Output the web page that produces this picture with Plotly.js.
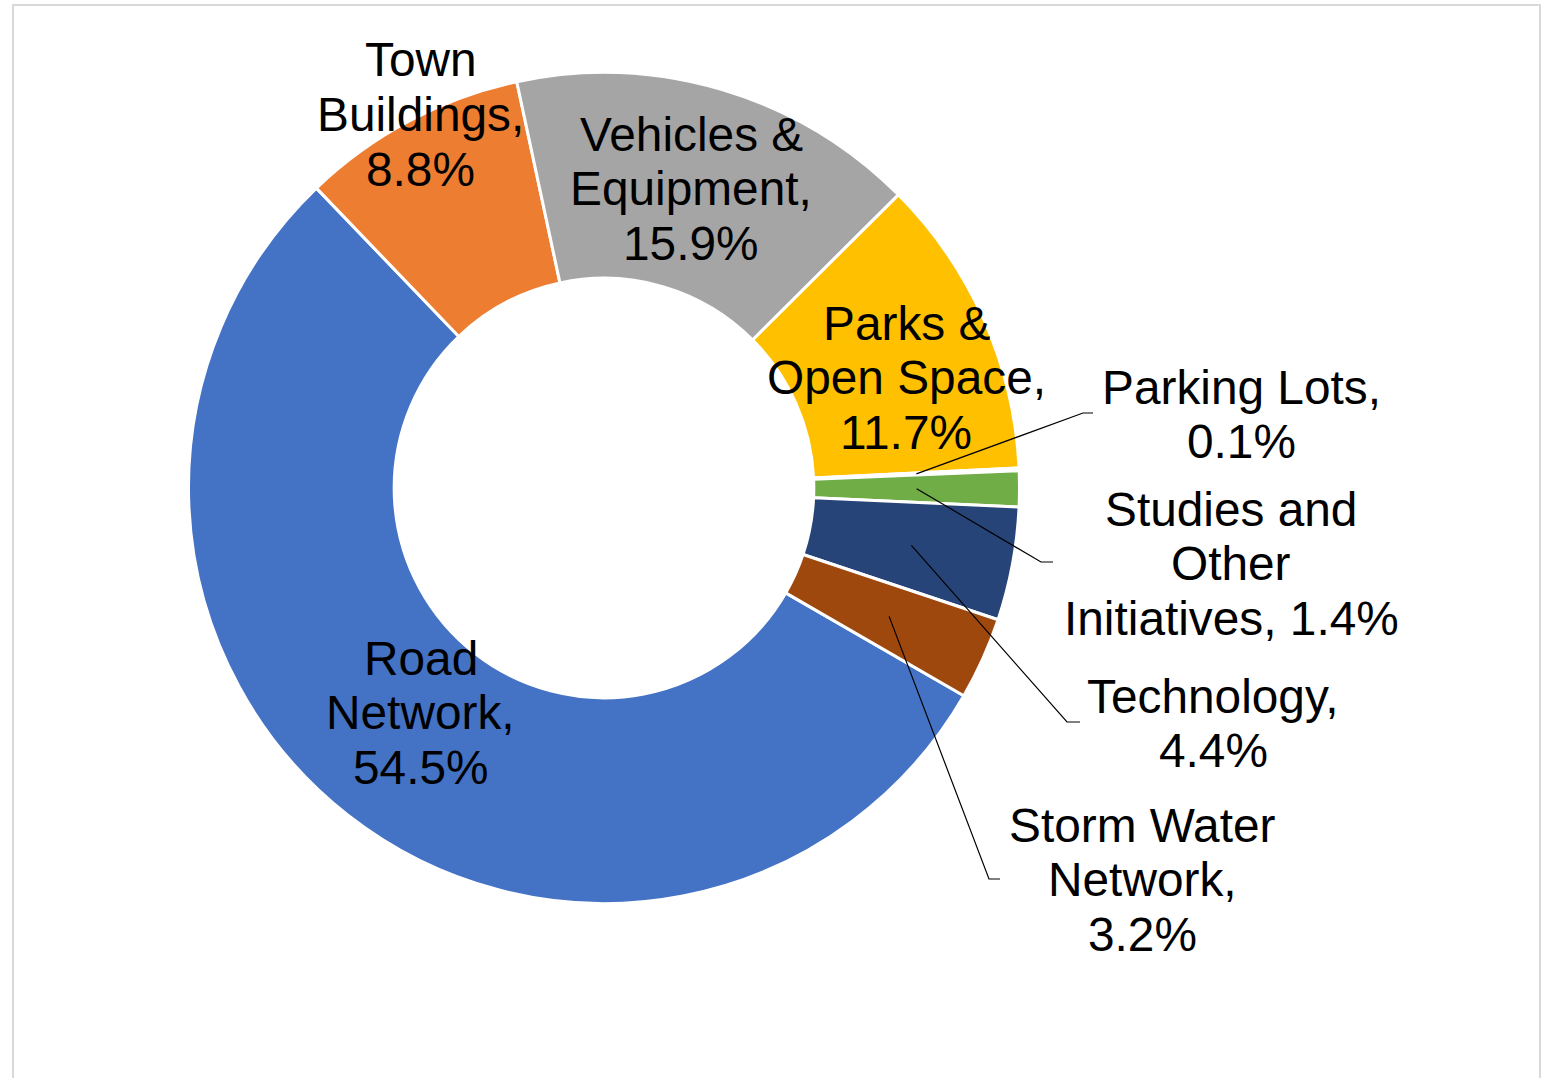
<!DOCTYPE html>
<html><head><meta charset="utf-8">
<script src="https://cdn.plot.ly/plotly-3.0.1.min.js"></script>
<style>html,body{margin:0;padding:0;background:#fff;overflow:hidden;} #chart{width:1547px;height:1078px;}</style>
</head><body><div id="chart"></div>
<script>
// ---- data ----
const categories = ["Road Network", "Town Buildings", "Vehicles & Equipment", "Parks & Open Space",
                    "Parking Lots", "Studies and Other Initiatives", "Technology", "Storm Water Network"];
const values = [54.5, 8.8, 15.9, 11.7, 0.1, 1.4, 4.4, 3.2];
const colors = ["#4472C4", "#ED7D31", "#A5A5A5", "#FFC000", "#5B9BD5", "#70AD47", "#264478", "#9E480E"];

// ---- layout of labels (pixels) ----
const W = 1547, H = 1078;
const CX = 604, CY = 488, R = 415.5, HOLE = 0.505, ROT = 120;
const wordsPerLine = [[1,1,1],[1,1,1],[2,1,1],[2,2,1],[2,1],[2,1,2],[1,1],[2,1,1]];
const labelX = [421, 421, 691, 906, 1241, 1231, 1213, 1142];
const labelY = [658, 60, 134, 323, 387, 509, 696, 825];
const LINE_GAP = 54.6;
const leaderIdx = [4, 5, 6, 7];
const leaderElbow = [[1083, 413], [1041, 562], [1067, 722], [989, 879]];
const leaderEnd = [[1093, 413], [1053, 562], [1080, 722], [1000, 879]];

const px = x => x / W, py = y => 1 - y / H;

const total = values.reduce((a, b) => a + b, 0);
const annotations = [];
categories.forEach((c, i) => {
  const words = (c + ", " + values[i].toFixed(1) + "%").split(" ");
  let k = 0;
  wordsPerLine[i].forEach((n, li) => {
    const line = words.slice(k, k + n).join(" ");
    k += n;
    annotations.push({
      xref: "paper", yref: "paper", x: px(labelX[i]), y: py(labelY[i] + li * LINE_GAP),
      xanchor: "center", yanchor: "middle", showarrow: false, text: line,
      font: {family: "Liberation Sans, Arial, sans-serif", size: 47.8, color: "#000"}
    });
  });
});

const shapes = [{
  type: "rect", xref: "paper", yref: "paper", x0: px(13), x1: px(1540), y0: -0.05, y1: py(5),
  line: {color: "#D9D9D9", width: 2}, fillcolor: "rgba(0,0,0,0)", layer: "below"
}];
// leader lines start at mid-ring, mid-angle of each slice
let cum = [];
values.reduce((a, v, i) => { cum[i] = a; return a + v; }, 0);
const rMid = R * (1 + HOLE) / 2;
leaderIdx.forEach((i, j) => {
  const ang = (ROT + (cum[i] + values[i] / 2) / total * 360) * Math.PI / 180;
  const sx = CX + rMid * Math.sin(ang), sy = CY - rMid * Math.cos(ang);
  const e = leaderElbow[j], f = leaderEnd[j];
  shapes.push({type: "path", xref: "paper", yref: "paper",
    path: `M ${px(sx)} ${py(sy)} L ${px(e[0])} ${py(e[1])} L ${px(f[0])} ${py(f[1])}`,
    line: {color: "#000", width: 1.2}});
});

const trace = {
  type: "pie", labels: categories, values: values, hole: HOLE, sort: false,
  direction: "clockwise", rotation: ROT, textinfo: "none", hoverinfo: "none",
  marker: {colors: colors, line: {color: "#FFFFFF", width: 3}},
  domain: {x: [px(CX - R), px(CX + R)], y: [py(CY + R), py(CY - R)]},
  showlegend: false
};

Plotly.newPlot("chart", [trace], {
  width: W, height: H, margin: {l: 0, r: 0, t: 0, b: 0},
  paper_bgcolor: "#FFFFFF", plot_bgcolor: "#FFFFFF",
  showlegend: false, annotations: annotations, shapes: shapes
}, {displayModeBar: false, staticPlot: true});
</script>
</body></html>
